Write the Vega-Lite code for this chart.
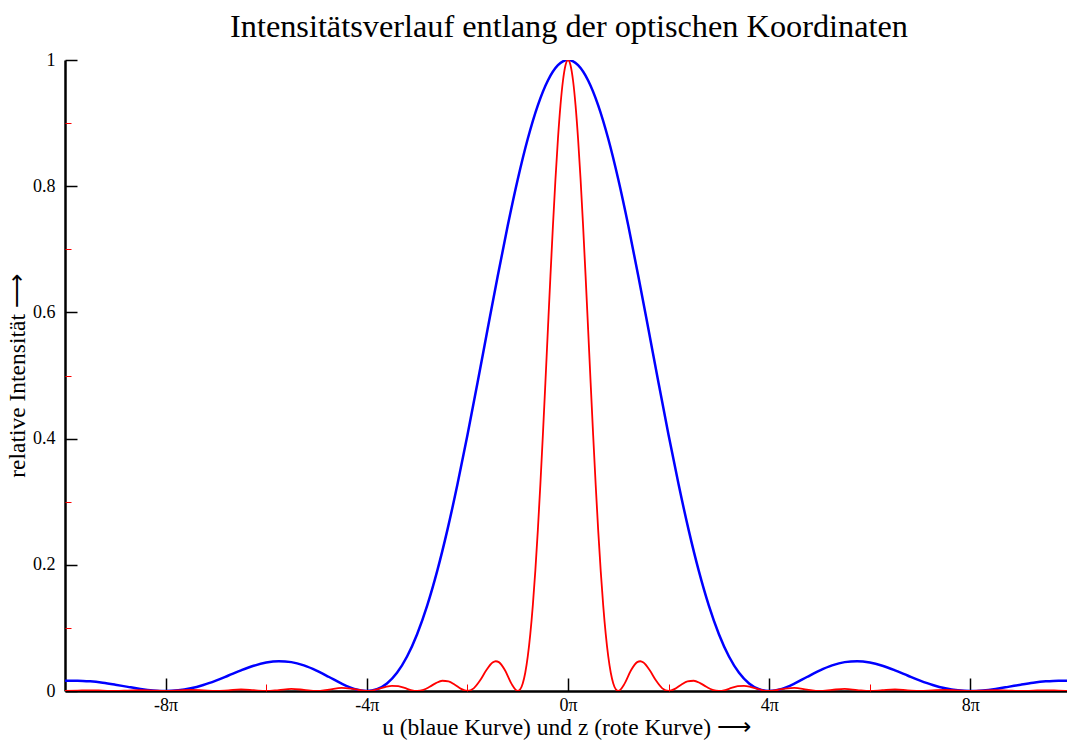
{
  "$schema": "https://vega.github.io/schema/vega-lite/v6.json",
  "autosize": {"type": "none"},
  "padding": {"left": 65, "top": 60, "right": 0, "bottom": 53},
  "width": 1002,
  "height": 631,
  "background": "white",
  "config": {
    "view": {"stroke": null},
    "font": "Liberation Serif",
    "axis": {
      "labelFont": "Liberation Serif", "labelFontSize": 18, "labelColor": "black",
      "titleFont": "Liberation Serif", "titleFontSize": 23.5, "titleFontWeight": "normal", "titleColor": "black"
    }
  },
  "title": {
    "text": "Intensitätsverlauf entlang der optischen Koordinaten",
    "font": "Liberation Serif",
    "fontSize": 32.3,
    "fontWeight": "normal",
    "color": "black",
    "anchor": "middle",
    "offset": 8,
    "dx": 3
  },
  "datasets": {
    "blau": [
      {"x": -10, "I": 0.016211}, {"x": -9.75, "I": 0.016404}, {"x": -9.5, "I": 0.015332}, {"x": -9.25, "I": 0.013099},
      {"x": -9, "I": 0.010007}, {"x": -8.75, "I": 0.006536}, {"x": -8.5, "I": 0.003286}, {"x": -8.25, "I": 0.000907},
      {"x": -8, "I": 0}, {"x": -7.75, "I": 0.001027}, {"x": -7.5, "I": 0.004221}, {"x": -7.25, "I": 0.00952},
      {"x": -7, "I": 0.016542}, {"x": -6.75, "I": 0.024598}, {"x": -6.5, "I": 0.032751}, {"x": -6.25, "I": 0.039921},
      {"x": -6, "I": 0.045032}, {"x": -5.75, "I": 0.047167}, {"x": -5.5, "I": 0.045743}, {"x": -5.25, "I": 0.040663},
      {"x": -5, "I": 0.032423}, {"x": -4.75, "I": 0.022177}, {"x": -4.5, "I": 0.011724}, {"x": -4.25, "I": 0.003416},
      {"x": -4, "I": 0}, {"x": -3.8, "I": 0.00275}, {"x": -3.6, "I": 0.01194}, {"x": -3.4, "I": 0.0289},
      {"x": -3.2, "I": 0.0547}, {"x": -3, "I": 0.09006}, {"x": -2.8, "I": 0.13534}, {"x": -2.6, "I": 0.19039},
      {"x": -2.4, "I": 0.25457}, {"x": -2.2, "I": 0.32675}, {"x": -2, "I": 0.40528}, {"x": -1.8, "I": 0.48811},
      {"x": -1.6, "I": 0.57279}, {"x": -1.4, "I": 0.65664}, {"x": -1.2, "I": 0.73684}, {"x": -1, "I": 0.81057},
      {"x": -0.8, "I": 0.87514}, {"x": -0.6, "I": 0.92813}, {"x": -0.4, "I": 0.96753}, {"x": -0.2, "I": 0.99179},
      {"x": 0, "I": 1},
      {"x": 0.2, "I": 0.99179}, {"x": 0.4, "I": 0.96753}, {"x": 0.6, "I": 0.92813}, {"x": 0.8, "I": 0.87514},
      {"x": 1, "I": 0.81057}, {"x": 1.2, "I": 0.73684}, {"x": 1.4, "I": 0.65664}, {"x": 1.6, "I": 0.57279},
      {"x": 1.8, "I": 0.48811}, {"x": 2, "I": 0.40528}, {"x": 2.2, "I": 0.32675}, {"x": 2.4, "I": 0.25457},
      {"x": 2.6, "I": 0.19039}, {"x": 2.8, "I": 0.13534}, {"x": 3, "I": 0.09006}, {"x": 3.2, "I": 0.0547},
      {"x": 3.4, "I": 0.0289}, {"x": 3.6, "I": 0.01194}, {"x": 3.8, "I": 0.00275}, {"x": 4, "I": 0},
      {"x": 4.25, "I": 0.003416}, {"x": 4.5, "I": 0.011724}, {"x": 4.75, "I": 0.022177}, {"x": 5, "I": 0.032423},
      {"x": 5.25, "I": 0.040663}, {"x": 5.5, "I": 0.045743}, {"x": 5.75, "I": 0.047167}, {"x": 6, "I": 0.045032},
      {"x": 6.25, "I": 0.039921}, {"x": 6.5, "I": 0.032751}, {"x": 6.75, "I": 0.024598}, {"x": 7, "I": 0.016542},
      {"x": 7.25, "I": 0.00952}, {"x": 7.5, "I": 0.004221}, {"x": 7.75, "I": 0.001027}, {"x": 8, "I": 0},
      {"x": 8.25, "I": 0.000907}, {"x": 8.5, "I": 0.003286}, {"x": 8.75, "I": 0.006536}, {"x": 9, "I": 0.010007},
      {"x": 9.25, "I": 0.013099}, {"x": 9.5, "I": 0.015332}, {"x": 9.75, "I": 0.016404}, {"x": 10, "I": 0.016211}
    ],
    "rot": [
      {"x": -10, "I": 0}, {"x": -9.75, "I": 0.000533}, {"x": -9.5, "I": 0.001123}, {"x": -9.25, "I": 0.000592},
      {"x": -9, "I": 0}, {"x": -8.75, "I": 0.000662}, {"x": -8.5, "I": 0.001402}, {"x": -8.25, "I": 0.000744},
      {"x": -8, "I": 0}, {"x": -7.75, "I": 0.000843}, {"x": -7.5, "I": 0.001801}, {"x": -7.25, "I": 0.000964},
      {"x": -7, "I": 0}, {"x": -6.75, "I": 0.001112}, {"x": -6.5, "I": 0.002398}, {"x": -6.25, "I": 0.001297},
      {"x": -6, "I": 0}, {"x": -5.75, "I": 0.001532}, {"x": -5.5, "I": 0.003349}, {"x": -5.25, "I": 0.001838},
      {"x": -5, "I": 0}, {"x": -4.75, "I": 0.002245}, {"x": -4.5, "I": 0.005004}, {"x": -4.25, "I": 0.002805},
      {"x": -4, "I": 0}, {"x": -3.875, "I": 0.000988}, {"x": -3.75, "I": 0.003603}, {"x": -3.625, "I": 0.006581},
      {"x": -3.5, "I": 0.008271}, {"x": -3.375, "I": 0.007592}, {"x": -3.25, "I": 0.004796}, {"x": -3.125, "I": 0.001519},
      {"x": -3, "I": 0}, {"x": -2.875, "I": 0.001795}, {"x": -2.75, "I": 0.006699}, {"x": -2.625, "I": 0.012551},
      {"x": -2.5, "I": 0.016211}, {"x": -2.375, "I": 0.015332}, {"x": -2.25, "I": 0.010007}, {"x": -2.125, "I": 0.003286},
      {"x": -2, "I": 0}, {"x": -1.875, "I": 0.004221}, {"x": -1.75, "I": 0.016542}, {"x": -1.625, "I": 0.032751},
      {"x": -1.5, "I": 0.045032}, {"x": -1.4375, "I": 0.047167}, {"x": -1.375, "I": 0.045743}, {"x": -1.25, "I": 0.032423},
      {"x": -1.125, "I": 0.011724}, {"x": -1, "I": 0},
      {"x": -0.95, "I": 0.00275}, {"x": -0.9, "I": 0.01194}, {"x": -0.85, "I": 0.0289}, {"x": -0.8, "I": 0.0547},
      {"x": -0.75, "I": 0.09006}, {"x": -0.7, "I": 0.13534}, {"x": -0.65, "I": 0.19039}, {"x": -0.6, "I": 0.25457},
      {"x": -0.55, "I": 0.32675}, {"x": -0.5, "I": 0.40528}, {"x": -0.45, "I": 0.48811}, {"x": -0.4, "I": 0.57279},
      {"x": -0.35, "I": 0.65664}, {"x": -0.3, "I": 0.73684}, {"x": -0.25, "I": 0.81057}, {"x": -0.2, "I": 0.87514},
      {"x": -0.15, "I": 0.92813}, {"x": -0.1, "I": 0.96753}, {"x": -0.05, "I": 0.99179}, {"x": 0, "I": 1},
      {"x": 0.05, "I": 0.99179}, {"x": 0.1, "I": 0.96753}, {"x": 0.15, "I": 0.92813}, {"x": 0.2, "I": 0.87514},
      {"x": 0.25, "I": 0.81057}, {"x": 0.3, "I": 0.73684}, {"x": 0.35, "I": 0.65664}, {"x": 0.4, "I": 0.57279},
      {"x": 0.45, "I": 0.48811}, {"x": 0.5, "I": 0.40528}, {"x": 0.55, "I": 0.32675}, {"x": 0.6, "I": 0.25457},
      {"x": 0.65, "I": 0.19039}, {"x": 0.7, "I": 0.13534}, {"x": 0.75, "I": 0.09006}, {"x": 0.8, "I": 0.0547},
      {"x": 0.85, "I": 0.0289}, {"x": 0.9, "I": 0.01194}, {"x": 0.95, "I": 0.00275}, {"x": 1, "I": 0},
      {"x": 1.125, "I": 0.011724}, {"x": 1.25, "I": 0.032423}, {"x": 1.375, "I": 0.045743}, {"x": 1.4375, "I": 0.047167},
      {"x": 1.5, "I": 0.045032}, {"x": 1.625, "I": 0.032751}, {"x": 1.75, "I": 0.016542}, {"x": 1.875, "I": 0.004221},
      {"x": 2, "I": 0}, {"x": 2.125, "I": 0.003286}, {"x": 2.25, "I": 0.010007}, {"x": 2.375, "I": 0.015332},
      {"x": 2.5, "I": 0.016211}, {"x": 2.625, "I": 0.012551}, {"x": 2.75, "I": 0.006699}, {"x": 2.875, "I": 0.001795},
      {"x": 3, "I": 0}, {"x": 3.125, "I": 0.001519}, {"x": 3.25, "I": 0.004796}, {"x": 3.375, "I": 0.007592},
      {"x": 3.5, "I": 0.008271}, {"x": 3.625, "I": 0.006581}, {"x": 3.75, "I": 0.003603}, {"x": 3.875, "I": 0.000988},
      {"x": 4, "I": 0}, {"x": 4.25, "I": 0.002805}, {"x": 4.5, "I": 0.005004}, {"x": 4.75, "I": 0.002245},
      {"x": 5, "I": 0}, {"x": 5.25, "I": 0.001838}, {"x": 5.5, "I": 0.003349}, {"x": 5.75, "I": 0.001532},
      {"x": 6, "I": 0}, {"x": 6.25, "I": 0.001297}, {"x": 6.5, "I": 0.002398}, {"x": 6.75, "I": 0.001112},
      {"x": 7, "I": 0}, {"x": 7.25, "I": 0.000964}, {"x": 7.5, "I": 0.001801}, {"x": 7.75, "I": 0.000843},
      {"x": 8, "I": 0}, {"x": 8.25, "I": 0.000744}, {"x": 8.5, "I": 0.001402}, {"x": 8.75, "I": 0.000662},
      {"x": 9, "I": 0}, {"x": 9.25, "I": 0.000592}, {"x": 9.5, "I": 0.001123}, {"x": 9.75, "I": 0.000533},
      {"x": 10, "I": 0}
    ]
  },
  "layer": [
    {
      "data": {"name": "blau"},
      "mark": {"type": "line", "color": "#0000ff", "strokeWidth": 2.5, "interpolate": "monotone", "clip": true},
      "encoding": {
        "x": {
          "field": "x", "type": "quantitative",
          "scale": {"domain": [-10, 9.92], "nice": false, "zero": false},
          "axis": {
            "orient": "bottom",
            "values": [-8, -4, 0, 4, 8],
            "labelExpr": "datum.value + 'π'",
            "title": "u (blaue Kurve) und z (rote Kurve)     ⟶",
            "grid": false,
            "domainColor": "black", "domainWidth": 2.5,
            "tickColor": "black", "tickWidth": 1.5, "tickSize": -13,
            "labelPadding": 18, "labelFlush": false,
            "titlePadding": 1
          }
        },
        "y": {
          "field": "I", "type": "quantitative",
          "scale": {"domain": [0, 1], "nice": false},
          "axis": {
            "orient": "left",
            "values": [0, 0.2, 0.4, 0.6, 0.8, 1],
            "format": "~g",
            "title": "relative Intensität     ⟶",
            "grid": false,
            "domainColor": "black", "domainWidth": 2.5,
            "tickColor": "black", "tickWidth": 1.5, "tickSize": -12,
            "labelPadding": 22,
            "titlePadding": 3
          }
        }
      }
    },
    {
      "data": {"name": "rot"},
      "mark": {"type": "line", "color": "#ff0000", "strokeWidth": 1.8, "interpolate": "monotone", "clip": true},
      "encoding": {
        "x": {
          "field": "x", "type": "quantitative",
          "axis": {
            "orient": "bottom",
            "values": [-6, -2, 2, 6],
            "labels": false, "domain": false, "grid": false, "title": null,
            "tickColor": "red", "tickWidth": 1, "tickSize": -7
          }
        },
        "y": {
          "field": "I", "type": "quantitative",
          "axis": {
            "orient": "left",
            "values": [0.1, 0.3, 0.5, 0.7, 0.9],
            "labels": false, "domain": false, "grid": false, "title": null,
            "tickColor": "red", "tickWidth": 1, "tickSize": -6
          }
        }
      }
    }
  ],
  "resolve": {"axis": {"x": "independent", "y": "independent"}}
}
